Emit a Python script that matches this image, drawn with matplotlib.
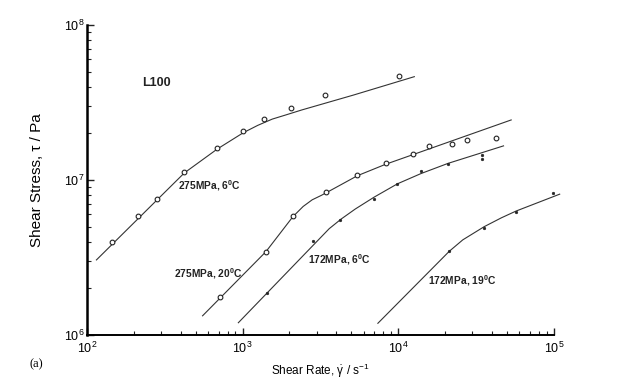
import matplotlib
matplotlib.use("Agg")
import matplotlib.pyplot as plt
from matplotlib.ticker import LogLocator, NullFormatter, FixedLocator, FixedFormatter

plt.rcParams["font.family"] = ["Liberation Sans", "DejaVu Sans"]
plt.rcParams["mathtext.fontset"] = "custom"
plt.rcParams["mathtext.rm"] = "Liberation Sans"
plt.rcParams["mathtext.it"] = "Liberation Sans:italic"
plt.rcParams["mathtext.default"] = "regular"

# measured points (shear rate 1/s, shear stress Pa)
s1_x = [145, 214, 282, 422, 688, 1011, 1364, 2055, 3365, 10190]
s1_y = [3.96e6, 5.86e6, 7.5e6, 1.13e7, 1.62e7, 2.06e7, 2.48e7, 2.93e7, 3.53e7, 4.69e7]
s2_x = [716, 1413, 2105, 3457, 5468, 8285, 12390, 15800, 22200, 27500, 42200]
s2_y = [1.77e6, 3.41e6, 5.83e6, 8.37e6, 1.08e7, 1.28e7, 1.47e7, 1.665e7, 1.71e7, 1.80e7, 1.87e7]
s3_x = [1429, 2850, 4210, 7030, 9890, 14000, 20900, 34700, 34700]
s3_y = [1.87e6, 4.06e6, 5.52e6, 7.52e6, 9.47e6, 1.15e7, 1.27e7, 1.37e7, 1.44e7]
s4_x = [21300, 35700, 57100, 98900]
s4_y = [3.47e6, 4.92e6, 6.26e6, 8.22e6]

# fitted curves
c1_x = [115, 422, 688, 1012, 1250, 1550, 1900, 2400, 5152, 12690]
c1_y = [3.05e6, 1.11e7, 1.585e7, 2.02e7, 2.25e7, 2.47e7, 2.63e7, 2.83e7, 3.53e7, 4.64e7]
c2_x = [553, 1413, 2105, 2450, 2800, 3200, 3700, 5470, 8285, 53200]
c2_y = [1.33e6, 3.45e6, 5.8e6, 6.75e6, 7.45e6, 7.95e6, 8.6e6, 1.066e7, 1.262e7, 2.44e7]
c3_x = [939, 3600, 4300, 5300, 7000, 9890, 14000, 20900, 47500]
c3_y = [1.20e6, 4.85e6, 5.6e6, 6.5e6, 7.75e6, 9.45e6, 1.1e7, 1.28e7, 1.66e7]
c4_x = [7400, 21300, 26000, 35700, 46000, 57100, 109000]
c4_y = [1.19e6, 3.47e6, 4.11e6, 5.0e6, 5.7e6, 6.3e6, 8.1e6]

fig = plt.figure(figsize=(6.2, 3.79), dpi=100)
ax = fig.add_axes([0.1403, 0.1161, 0.753, 0.818])

lc = "#333333"
for cx, cy in [(c1_x, c1_y), (c2_x, c2_y), (c3_x, c3_y), (c4_x, c4_y)]:
    ax.plot(cx, cy, color=lc, lw=0.8, clip_on=False, zorder=2)

for sx, sy in [(s1_x, s1_y), (s2_x, s2_y)]:
    ax.plot(sx, sy, "o", ms=3.4, mfc="white", mec="#222222", mew=0.8, zorder=3)
for sx, sy in [(s3_x, s3_y), (s4_x, s4_y)]:
    ax.plot(sx, sy, "o", ms=2.0, mfc="#222222", mec="#222222", mew=0.3, zorder=3)

ax.set_xscale("log")
ax.set_yscale("log")
ax.set_xlim(1e2, 1e5)
ax.set_ylim(1e6, 1e8)

for sp in ["top", "right"]:
    ax.spines[sp].set_visible(False)
ax.spines["left"].set_linewidth(1.8)
ax.spines["bottom"].set_linewidth(1.4)

ax.xaxis.set_major_locator(FixedLocator([1e2, 1e3, 1e4, 1e5]))
ax.xaxis.set_major_formatter(FixedFormatter(["$10^{2}$", "$10^{3}$", "$10^{4}$", "$10^{5}$"]))
ax.yaxis.set_major_locator(FixedLocator([1e6, 1e7, 1e8]))
ax.yaxis.set_major_formatter(FixedFormatter(["$10^{6}$", "$10^{7}$", "$10^{8}$"]))
ax.xaxis.set_minor_locator(LogLocator(base=10, subs=range(2, 10)))
ax.yaxis.set_minor_locator(LogLocator(base=10, subs=range(2, 10)))
ax.xaxis.set_minor_formatter(NullFormatter())
ax.yaxis.set_minor_formatter(NullFormatter())
ax.tick_params(which="both", direction="in", color="#222222")
ax.tick_params(which="major", length=5, width=1.0, labelsize=9, pad=2)
ax.tick_params(axis="x", which="major", pad=4)
ax.tick_params(which="minor", length=3, width=0.8)

ax.set_xlabel(r"Shear Rate, $\dot{\gamma}$ / s$^{-1}$", fontsize=8.5, labelpad=4)
ax.set_ylabel(r"Shear Stress, τ / Pa", fontsize=11, labelpad=14)

tkw = dict(fontsize=7.4, fontweight="bold", color="#222222", va="center", ha="left")
ax.text(226, 4.25e7, "L100", fontsize=9, fontweight="bold", color="#222222", va="center")
ax.text(387, 9.2e6, "275MPa, 6$^{0}$C", **tkw)
ax.text(361, 2.48e6, "275MPa, 20$^{0}$C", **tkw)
ax.text(2623, 3.05e6, "172MPa, 6$^{0}$C", **tkw)
ax.text(15500, 2.24e6, "172MPa, 19$^{0}$C", **tkw)

fig.text(30 / 620, 1 - 364 / 379, "(a)", fontsize=9, family="Liberation Serif", va="center")

fig.savefig("out.png", dpi=100)
